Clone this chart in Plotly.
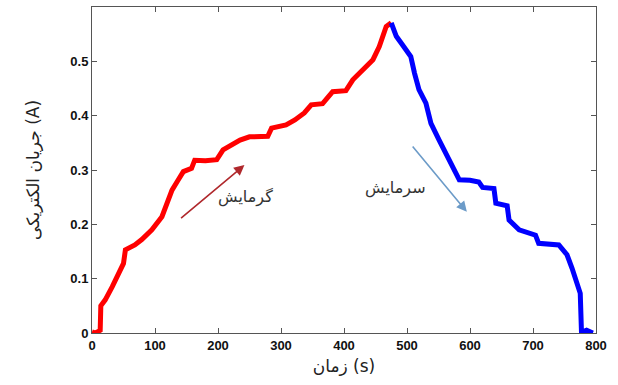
import plotly.graph_objects as go

# Heating (red) segment: time (s), current (A)
heat_t = [0, 5, 10, 13, 14, 21, 32, 42, 50, 53, 68, 79, 95, 111, 119, 127, 137, 145,
          158, 163, 180, 198, 208, 222, 235, 250, 279, 285, 308, 322, 337, 348, 366,
          382, 403, 414, 424, 435, 446, 456, 467, 475]
heat_i = [0.002, 0.0, 0.003, 0.005, 0.05, 0.061, 0.085, 0.11, 0.128, 0.153, 0.162,
          0.172, 0.19, 0.214, 0.239, 0.263, 0.282, 0.297, 0.303, 0.318, 0.317, 0.319,
          0.337, 0.345, 0.355, 0.361, 0.362, 0.377, 0.383, 0.392, 0.405, 0.42, 0.422,
          0.444, 0.446, 0.466, 0.478, 0.49, 0.503, 0.527, 0.564, 0.571]

# Cooling (blue) segment
cool_t = [475, 483, 493, 506, 512, 519, 530, 538, 551, 562, 572, 583, 600, 614, 620,
          638, 641, 659, 662, 678, 704, 709, 741, 754, 762, 770, 775, 777, 778, 785,
          790, 795]
cool_i = [0.571, 0.546, 0.53, 0.509, 0.478, 0.448, 0.423, 0.386, 0.355, 0.33, 0.305,
          0.282, 0.281, 0.278, 0.268, 0.266, 0.239, 0.234, 0.208, 0.19, 0.18, 0.165,
          0.162, 0.144, 0.119, 0.092, 0.073, 0.0, 0.002, 0.005, 0.003, 0.0]

x_ticks = [0, 100, 200, 300, 400, 500, 600, 700, 800]
y_ticks = [0, 0.1, 0.2, 0.3, 0.4, 0.5]
y_ticktext = ["0", "0.1", "0.2", "0.3", "0.4", "0.5"]

heat_label = "گرمایش"
cool_label = "سرمایش"
x_title = "زمان (s)"
y_title = "جریان الکتریکی (A)"

fig = go.Figure()
fig.add_trace(go.Scatter(x=heat_t, y=heat_i, mode="lines",
                         line=dict(color="#FF0000", width=5), showlegend=False))
fig.add_trace(go.Scatter(x=cool_t, y=cool_i, mode="lines",
                         line=dict(color="#0000FF", width=5), showlegend=False))

# arrows and labels
fig.add_annotation(x=242, y=0.309, ax=139, ay=0.209, xref="x", yref="y",
                   axref="x", ayref="y", showarrow=True, arrowhead=2,
                   arrowsize=1.3, arrowwidth=1.6, arrowcolor="#B0282C", text="")
fig.add_annotation(x=595, y=0.223, ax=507, ay=0.346, xref="x", yref="y",
                   axref="x", ayref="y", showarrow=True, arrowhead=2,
                   arrowsize=1.3, arrowwidth=1.6, arrowcolor="#6C9BC8", text="")
fig.add_annotation(x=243, y=0.25, xref="x", yref="y", text=heat_label,
                   showarrow=False, font=dict(family="DejaVu Sans", size=16, color="#333333"))
fig.add_annotation(x=482, y=0.267, xref="x", yref="y", text=cool_label,
                   showarrow=False, font=dict(family="DejaVu Sans", size=16, color="#333333"))

axis_common = dict(showline=True, linecolor="#555555", linewidth=1, mirror="ticks",
                   ticks="inside", ticklen=5, tickcolor="#555555", showgrid=False,
                   zeroline=False,
                   tickfont=dict(family="Liberation Sans", size=13, color="#111111",
                                 weight="bold"))

fig.update_xaxes(range=[0, 800], tickvals=x_ticks, **axis_common,
                 title=dict(text=x_title, standoff=8,
                            font=dict(family="DejaVu Sans", size=17, color="#222222")))
fig.update_yaxes(range=[0, 0.6], tickvals=y_ticks, ticktext=y_ticktext, **axis_common,
                 title=dict(text=y_title, standoff=26,
                            font=dict(family="DejaVu Sans", size=17, color="#222222")))

fig.update_layout(width=618, height=385, margin=dict(l=92, r=22, t=7, b=52),
                  plot_bgcolor="white", paper_bgcolor="white")

fig.write_html("out.html")
